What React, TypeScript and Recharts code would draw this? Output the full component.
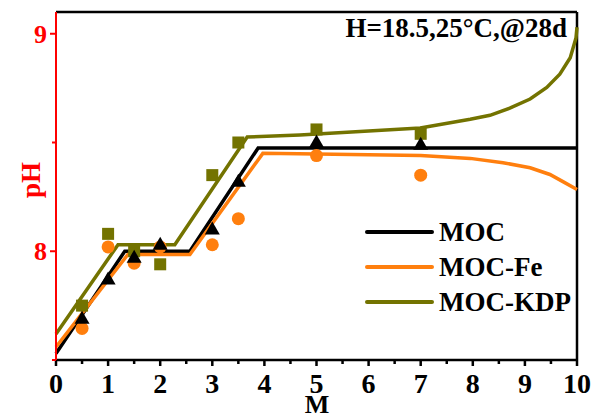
import React from 'react';
import {
  ComposedChart,
  Line,
  Scatter,
  XAxis,
  YAxis,
  ReferenceLine
} from 'recharts';

// axis ticks
const X_TICKS = [0, 0.5, 1, 1.5, 2, 2.5, 3, 3.5, 4, 4.5, 5, 5.5, 6, 6.5, 7, 7.5, 8, 8.5, 9, 9.5, 10];
const Y_TICKS = [7.5, 8, 8.5, 9];
const Y_LABELS = [8, 9];

// measured points
const M_VALUES = [0.5, 1, 1.5, 2, 3, 3.5, 5, 7];
const MOC_PH = [7.69, 7.87, 7.97, 8.03, 8.1, 8.32, 8.5, 8.49];
const FE_PH = [7.645, 8.02, 7.945, 8.02, 8.03, 8.15, 8.44, 8.35];
const KDP_PH = [7.75, 8.08, 8.0, 7.94, 8.35, 8.5, 8.56, 8.54];

// fitted curves
const MOC_FIT_M = [0, 1.32, 2.57, 3.88, 10];
const MOC_FIT_PH = [7.53, 8.0, 8.0, 8.475, 8.475];
const FE_FIT_M = [0, 1.38, 2.57, 3.97, 5, 7, 7.95, 8.58, 9.1, 9.48, 9.73, 10];
const FE_FIT_PH = [7.56, 7.985, 7.985, 8.45, 8.447, 8.44, 8.427, 8.407, 8.384, 8.353, 8.32, 8.284];
const KDP_FIT_M = [0, 1.19, 2.28, 3.67, 4.68, 6.99, 7.95, 8.33, 8.71, 9.1, 9.42, 9.67, 9.87, 9.98, 10];
const KDP_FIT_PH = [7.62, 8.03, 8.03, 8.525, 8.535, 8.567, 8.607, 8.625, 8.658, 8.7, 8.753, 8.814, 8.89, 8.98, 9.03];

const SERIES_NAMES = ['MOC', 'MOC-Fe', 'MOC-KDP'];

const BLACK = '#000000';
const ORANGE = '#ff7f0e';
const OLIVE = '#737300';
const RED = '#ff0000';
const SERIES_COLORS = [BLACK, ORANGE, OLIVE];
const FONT = '"Liberation Serif", "Times New Roman", serif';

const pts = (xs: number[], ys: number[]) => xs.map((x, i) => ({ x, y: ys[i] }));

const XTick = (props: any) => {
  const { x, y, payload } = props;
  const major = Number.isInteger(payload.value);
  return (
    <g>
      <line x1={x} x2={x} y1={y} y2={y + (major ? 6 : 4)} stroke={BLACK} strokeWidth={2.5} />
      {major && (
        <text x={x} y={y + 33} textAnchor="middle" fontFamily={FONT} fontWeight="bold" fontSize={28} fill={BLACK}>
          {payload.value}
        </text>
      )}
    </g>
  );
};

const YTick = (props: any) => {
  const { x, y, payload } = props;
  const major = Y_LABELS.includes(payload.value);
  return (
    <g>
      <line x1={x} x2={x - (major ? 6 : 4)} y1={y} y2={y} stroke={RED} strokeWidth={2} />
      {major && (
        <text x={x - 9} y={y + 9} textAnchor="end" fontFamily={FONT} fontWeight="bold" fontSize={26} fill={RED}>
          {payload.value}
        </text>
      )}
    </g>
  );
};

const Triangle = ({ cx, cy }: any) => (
  <polygon points={`${cx},${cy - 8} ${cx - 7.5},${cy + 5} ${cx + 7.5},${cy + 5}`} fill={BLACK} />
);
const Dot = ({ cx, cy }: any) => <circle cx={cx} cy={cy} r={6.5} fill={ORANGE} />;
const Square = ({ cx, cy }: any) => <rect x={cx - 6} y={cy - 6} width={12} height={12} fill={OLIVE} />;

export default function App() {
  return (
    <div style={{ position: 'absolute', left: 0, top: 0, width: 592, height: 414, background: '#fff' }}>
      <ComposedChart width={592} height={414} margin={{ top: 12, right: 15, bottom: 0, left: 0 }}>
        <XAxis
          type="number"
          dataKey="x"
          domain={[0, 10]}
          ticks={X_TICKS}
          interval={0}
          height={54}
          tickSize={0}
          tickMargin={0}
          tickLine={false}
          tick={<XTick />}
          axisLine={{ stroke: BLACK, strokeWidth: 2.5 }}
        />
        <YAxis
          type="number"
          dataKey="y"
          domain={[7.5, 9.1]}
          ticks={Y_TICKS}
          interval={0}
          width={56}
          tickSize={0}
          tickMargin={0}
          tickLine={false}
          tick={<YTick />}
          axisLine={{ stroke: RED, strokeWidth: 2 }}
        />
        <ReferenceLine y={9.1} stroke={BLACK} strokeWidth={2.5} />
        <ReferenceLine x={10} stroke={BLACK} strokeWidth={2.5} />
        <Line data={pts(MOC_FIT_M, MOC_FIT_PH)} dataKey="y" name="MOC" type="linear" stroke={BLACK} strokeWidth={3.5} dot={false} isAnimationActive={false} />
        <Line data={pts(FE_FIT_M, FE_FIT_PH)} dataKey="y" name="MOC-Fe" type="linear" stroke={ORANGE} strokeWidth={3.5} dot={false} isAnimationActive={false} />
        <Line data={pts(KDP_FIT_M, KDP_FIT_PH)} dataKey="y" name="MOC-KDP" type="linear" stroke={OLIVE} strokeWidth={3.5} dot={false} isAnimationActive={false} />
        <Scatter data={pts(M_VALUES, KDP_PH)} dataKey="y" shape={<Square />} legendType="none" isAnimationActive={false} />
        <Scatter data={pts(M_VALUES, FE_PH)} dataKey="y" shape={<Dot />} legendType="none" isAnimationActive={false} />
        <Scatter data={pts(M_VALUES, MOC_PH)} dataKey="y" shape={<Triangle />} legendType="none" isAnimationActive={false} />
      </ComposedChart>
      <svg width={592} height={414} style={{ position: 'absolute', left: 0, top: 0, pointerEvents: 'none' }}>
        <text x={567} y={37} textAnchor="end" fontFamily={FONT} fontWeight="bold" fontSize={27} fill={BLACK}>
          H=18.5,25°C,@28d
        </text>
        <text x={40} y={180} transform="rotate(-90 40 180)" textAnchor="middle" fontFamily={FONT} fontWeight="bold" fontSize={27} fill={RED}>
          pH
        </text>
        <text x={317} y={413} textAnchor="middle" fontFamily={FONT} fontWeight="bold" fontSize={26} fill={BLACK}>
          M
        </text>
        {SERIES_NAMES.map((name, i) => (
          <g key={name}>
            <line x1={367} x2={432} y1={232 + i * 35} y2={232 + i * 35} stroke={SERIES_COLORS[i]} strokeWidth={4} strokeLinecap="round" />
            <text x={439} y={241 + i * 35} fontFamily={FONT} fontWeight="bold" fontSize={27} fill={BLACK}>
              {name}
            </text>
          </g>
        ))}
      </svg>
    </div>
  );
}
